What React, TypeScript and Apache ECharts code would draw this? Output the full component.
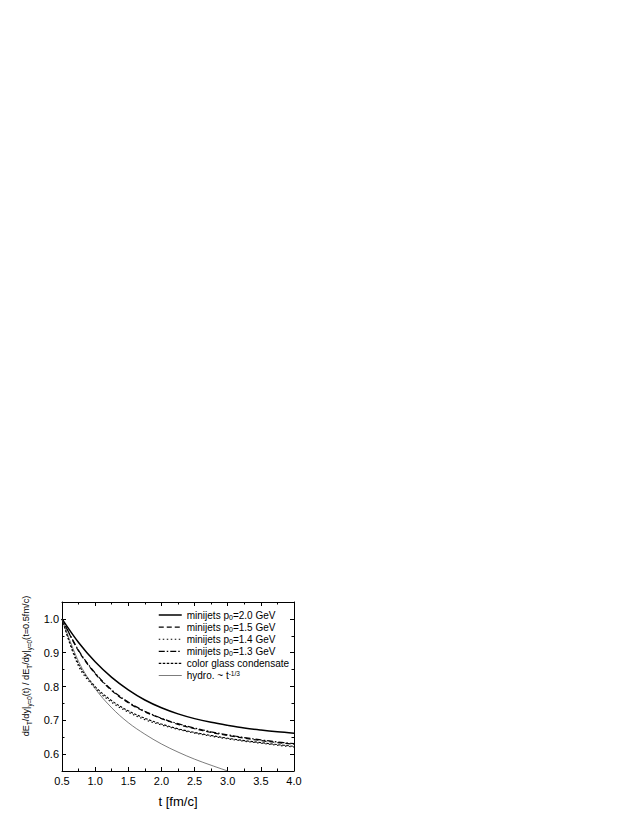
import React, { useEffect, useRef } from "react";
import * as echarts from "echarts";

// time grid [fm/c]
const T = [0.5, 0.75, 1.0, 1.25, 1.5, 1.75, 2.0, 2.25, 2.5, 2.75, 3.0, 3.25, 3.5, 3.75, 4.0];
const P20 = [1.0, 0.93, 0.873, 0.827, 0.79, 0.76, 0.737, 0.719, 0.705, 0.694, 0.685, 0.677, 0.671, 0.666, 0.662];
const P15 = [1.0, 0.905, 0.838, 0.788, 0.752, 0.725, 0.705, 0.688, 0.675, 0.664, 0.655, 0.647, 0.64, 0.634, 0.629];
const P14 = [1.0, 0.86, 0.795, 0.753, 0.724, 0.702, 0.686, 0.673, 0.662, 0.653, 0.645, 0.638, 0.632, 0.626, 0.621];
const P13 = [1.0, 0.907, 0.84, 0.79, 0.754, 0.727, 0.706, 0.69, 0.677, 0.666, 0.657, 0.649, 0.642, 0.636, 0.631];
const CGC = [1.0, 0.866, 0.8, 0.758, 0.728, 0.706, 0.689, 0.675, 0.664, 0.655, 0.647, 0.64, 0.634, 0.628, 0.623];
const HYDRO_T = [0.5, 0.75, 1.0, 1.25, 1.5, 1.75, 2.0, 2.25, 2.5, 2.75, 3.0];
const HYDRO = [1.0, 0.874, 0.794, 0.737, 0.693, 0.659, 0.63, 0.606, 0.585, 0.567, 0.55];

const Y_MAJOR = [0.6, 0.7, 0.8, 0.9, 1.0];
const Y_MINOR = [0.55, 0.65, 0.75, 0.85, 0.95, 1.05];

const NAMES = [
  "minijets p0=2.0 GeV",
  "minijets p0=1.5 GeV",
  "minijets p0=1.4 GeV",
  "minijets p0=1.3 GeV",
  "color glass condensate",
  "hydro. ~ t^-1/3",
];
const LEGEND_RICH_TEXT: Record<string, string> = {
  "minijets p0=2.0 GeV": "{n|minijets p}{sub|0}{n|=2.0 GeV}",
  "minijets p0=1.5 GeV": "{n|minijets p}{sub|0}{n|=1.5 GeV}",
  "minijets p0=1.4 GeV": "{n|minijets p}{sub|0}{n|=1.4 GeV}",
  "minijets p0=1.3 GeV": "{n|minijets p}{sub|0}{n|=1.3 GeV}",
  "color glass condensate": "{n|color glass condensate}",
  "hydro. ~ t^-1/3": "{n|hydro. ~ t}{sup|-1/3}",
};

const FONT = "'Liberation Sans', Arial, sans-serif";

function pairs(xs: number[], ys: number[]) {
  return xs.map((x, i) => [x, ys[i]]);
}

export default function App() {
  const ref = useRef<HTMLDivElement>(null);
  useEffect(() => {
    const chart = echarts.init(ref.current!, null, { renderer: "svg" });
    const baseY = {
      type: "value",
      min: 0.55,
      max: 1.05,
      splitLine: { show: false },
    } as any;
    const styles: { width: number; type: any; color: string }[] = [
      { width: 1.5, type: "solid", color: "#000" },
      { width: 1.2, type: [5, 3], color: "#000" },
      { width: 1.1, type: [1.5, 2.5], color: "#000" },
      { width: 1.2, type: [6, 2, 1.5, 2], color: "#000" },
      { width: 1.1, type: [2.5, 1.5], color: "#000" },
      { width: 0.7, type: "solid", color: "#444" },
    ];
    const dataSets: [number[], number[]][] = [
      [T, P20],
      [T, P15],
      [T, P14],
      [T, P13],
      [T, CGC],
      [HYDRO_T, HYDRO],
    ];
    const series = NAMES.map((name, i) => ({
      type: "line",
      name,
      data: pairs(dataSets[i][0], dataSets[i][1]),
      smooth: 0.35,
      symbol: "none",
      showSymbol: false,
      xAxisIndex: 0,
      yAxisIndex: 0,
      lineStyle: { ...styles[i] },
      itemStyle: { color: styles[i].color },
      clip: true,
    }));
    chart.setOption({
      animation: false,
      backgroundColor: "#fff",
      textStyle: { fontFamily: FONT },
      grid: { left: 62, top: 602, width: 232, height: 169, containLabel: false },
      xAxis: [
        {
          type: "value",
          min: 0.5,
          max: 4.0,
          interval: 0.5,
          position: "bottom",
          name: "t [fm/c]",
          nameLocation: "middle",
          nameGap: 24,
          nameTextStyle: { fontSize: 13, color: "#000", fontFamily: FONT },
          axisLine: { show: true, onZero: false, lineStyle: { color: "#000", width: 1 } },
          axisTick: { show: true, inside: true, length: 4, lineStyle: { color: "#000" } },
          minorTick: { show: true, splitNumber: 2, length: 2.5, lineStyle: { color: "#000" } },
          axisLabel: {
            color: "#000",
            fontSize: 11,
            margin: 4,
            fontFamily: FONT,
            formatter: (v: number) => v.toFixed(1),
          },
          splitLine: { show: false },
        },
        {
          type: "value",
          min: 0.5,
          max: 4.0,
          interval: 0.5,
          position: "top",
          axisLine: { show: true, onZero: false, lineStyle: { color: "#000", width: 1 } },
          axisTick: { show: true, inside: true, length: 4, lineStyle: { color: "#000" } },
          minorTick: { show: true, splitNumber: 2, length: 2.5, lineStyle: { color: "#000" } },
          axisLabel: { show: false },
          splitLine: { show: false },
        },
      ],
      yAxis: [
        {
          ...baseY,
          position: "left",
          axisLine: { show: true, onZero: false, lineStyle: { color: "#000", width: 1 } },
          axisTick: { show: true, inside: true, length: 4, customValues: Y_MAJOR, lineStyle: { color: "#000" } },
          axisLabel: {
            color: "#000",
            fontSize: 11,
            margin: 3,
            fontFamily: FONT,
            customValues: Y_MAJOR,
            formatter: (v: number) => v.toFixed(1),
          },
        },
        {
          ...baseY,
          position: "left",
          axisLine: { show: false },
          axisTick: { show: true, inside: true, length: 2.5, customValues: Y_MINOR, lineStyle: { color: "#000" } },
          axisLabel: { show: false },
        },
        {
          ...baseY,
          position: "right",
          axisLine: { show: true, onZero: false, lineStyle: { color: "#000", width: 1 } },
          axisTick: { show: true, inside: true, length: 4, customValues: Y_MAJOR, lineStyle: { color: "#000" } },
          axisLabel: { show: false },
        },
        {
          ...baseY,
          position: "right",
          axisLine: { show: false },
          axisTick: { show: true, inside: true, length: 2.5, customValues: Y_MINOR, lineStyle: { color: "#000" } },
          axisLabel: { show: false },
        },
      ],
      legend: {
        orient: "vertical",
        left: 158,
        top: 610,
        itemWidth: 23,
        itemHeight: 8,
        itemGap: 1.6,
        padding: 0,
        data: NAMES.map((name, i) => ({
          name,
          lineStyle: { width: styles[i].width, type: styles[i].type, color: styles[i].color },
        })),
        selectedMode: false,
        itemStyle: { opacity: 0 },
        formatter: (name: string) => LEGEND_RICH_TEXT[name] || name,
        textStyle: {
          color: "#000",
          fontFamily: FONT,
          fontSize: 10,
          rich: {
            n: { fontSize: 10, lineHeight: 11, fontFamily: FONT, color: "#000" },
            sub: { fontSize: 7, verticalAlign: "bottom", fontFamily: FONT, color: "#000" },
            sup: { fontSize: 6.5, verticalAlign: "top", fontFamily: FONT, color: "#000" },
          },
        },
      },
      graphic: [
        {
          type: "text",
          x: 26,
          y: 666,
          rotation: Math.PI / 2,
          style: {
            text: "{n|dE}{sub|T}{n|/dy|}{sub|y=0}{n|(t) / dE}{sub|T}{n|/dy|}{sub|y=0}{n|(t=0.5fm/c)}",
            align: "center",
            verticalAlign: "middle",
            fill: "#000",
            fontFamily: FONT,
            fontSize: 9.2,
            rich: {
              n: { fontSize: 9.2, lineHeight: 12, fontFamily: FONT, fill: "#000" },
              sub: { fontSize: 6.3, verticalAlign: "bottom", fontFamily: FONT, fill: "#000" },
            },
          },
        },
      ],
      series,
    });
    return () => chart.dispose();
  }, []);
  return (
    <div
      ref={ref}
      style={{ position: "absolute", left: 0, top: 0, width: 638, height: 825 }}
    />
  );
}
